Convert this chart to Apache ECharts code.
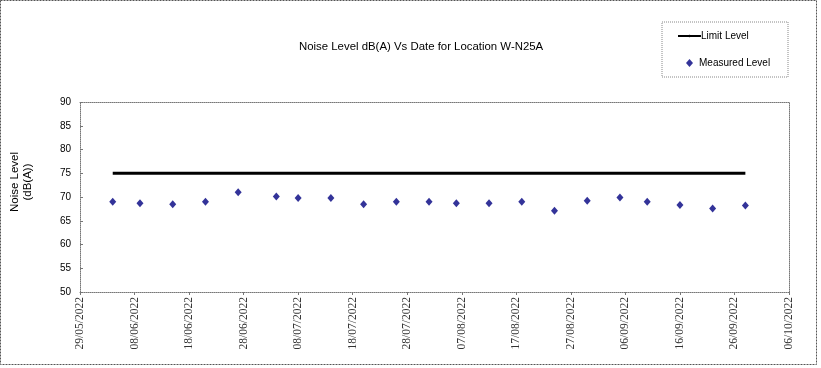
<!DOCTYPE html>
<html>
<head>
<meta charset="utf-8">
<script src="https://cdn.jsdelivr.net/npm/echarts@6/dist/echarts.min.js"></script>
<style>
html,body{margin:0;padding:0;background:#fff;}
#chart{width:821px;height:368px;}
</style>
</head>
<body>
<div id="chart"></div>
<script>
// ---- data ----
const startDate = '29/05/2022';
const endDate = '06/10/2022';
const tickStepDays = 10;
const dates = ['04/06/2022','09/06/2022','15/06/2022','21/06/2022','27/06/2022','04/07/2022','08/07/2022','14/07/2022','20/07/2022','26/07/2022','01/08/2022','06/08/2022','12/08/2022','18/08/2022','24/08/2022','30/08/2022','05/09/2022','10/09/2022','16/09/2022','22/09/2022','28/09/2022'];
const measuredLevel = [69.0,68.7,68.5,69.0,71.0,70.1,69.8,69.8,68.5,69.0,69.0,68.7,68.7,69.0,67.1,69.2,69.9,69.0,68.3,67.6,68.2];
const limitLevel = [75,75,75,75,75,75,75,75,75,75,75,75,75,75,75,75,75,75,75,75,75];
const yTicks = {min:50, max:90, step:5};

// ---- helpers ----
const DAY = 86400000;
function parseDMY(s){const p=s.split('/');return Date.UTC(+p[2],+p[1]-1,+p[0]);}
const t0 = parseDMY(startDate);
function dayOffset(s){return Math.round((parseDMY(s)-t0)/DAY);}
function fmtOffset(v){
  const d=new Date(t0+v*DAY);
  const dd=String(d.getUTCDate()).padStart(2,'0');
  const mm=String(d.getUTCMonth()+1).padStart(2,'0');
  return dd+'/'+mm+'/'+d.getUTCFullYear();
}
const xMax = dayOffset(endDate);
const measuredData = dates.map((d,i)=>[dayOffset(d),measuredLevel[i]]);
const limitData = dates.map((d,i)=>[dayOffset(d),limitLevel[i]]);

const axisGrey = '#777';
const chart = echarts.init(document.getElementById('chart'), null, {renderer:'canvas'});
chart.setOption({
  animation:false,
  backgroundColor:'#fff',
  title:{
    text:'Noise Level dB(A) Vs Date for Location W-N25A',
    left:299, top:41, padding:0,
    textStyle:{fontFamily:'Arial, Liberation Sans', fontSize:11.4, fontWeight:'normal', color:'#000'}
  },
  legend:[
    {
      data:['Limit Level'],
      left:677, top:31, padding:0,
      itemWidth:23, itemHeight:3, itemGap:0,
      textStyle:{fontFamily:'Arial, Liberation Sans', fontSize:10, color:'#000', padding:[0,0,0,-5]}
    },
    {
      data:[{name:'Measured Level', icon:'diamond'}],
      left:686, top:58, padding:0,
      itemWidth:7, itemHeight:8, itemGap:0,
      textStyle:{fontFamily:'Arial, Liberation Sans', fontSize:10, color:'#000', padding:[0,0,0,1]}
    }
  ],
  graphic:[
    {type:'rect', shape:{x:662, y:22, width:126, height:55}, style:{fill:'none', stroke:'#888', lineWidth:1, lineDash:[1,1]}, silent:true, z:-1},
    {type:'rect', shape:{x:0.5, y:0.5, width:816, height:364}, style:{fill:'none', stroke:'#555', lineWidth:1, lineDash:[2,1]}, silent:true, z:-1}
  ],
  grid:{left:80, right:32, top:102, bottom:76, containLabel:false, outerBoundsMode:'none'},
  xAxis:[
    {
      type:'value', min:0, max:xMax, interval:tickStepDays,
      axisLine:{show:true, lineStyle:{color:axisGrey, type:'dotted', width:1}},
      axisTick:{show:true, inside:false, length:3, lineStyle:{color:axisGrey}},
      splitLine:{show:false},
      axisLabel:{
        rotate:90, margin:5, formatter:fmtOffset,
        fontFamily:'Liberation Serif, Times New Roman, serif', fontSize:11.5, color:'#333',
        showMinLabel:true, showMaxLabel:true
      }
    },
    {
      type:'value', position:'top', min:0, max:xMax, interval:tickStepDays,
      axisLine:{show:true, onZero:false, lineStyle:{color:axisGrey, type:'dotted', width:1}},
      axisTick:{show:false}, axisLabel:{show:false}, splitLine:{show:false}
    }
  ],
  yAxis:[
    {
      type:'value', min:yTicks.min, max:yTicks.max, interval:yTicks.step,
      name:'Noise Level\n(dB(A))', nameLocation:'middle', nameGap:46, nameRotate:90,
      nameTextStyle:{fontFamily:'Arial, Liberation Sans', fontSize:11.5, color:'#000', lineHeight:13, padding:[0,0,0,30]},
      axisLine:{show:true, lineStyle:{color:axisGrey, type:'dotted', width:1}},
      axisTick:{show:true, inside:true, length:3, lineStyle:{color:axisGrey}},
      splitLine:{show:false},
      axisLabel:{margin:9, fontFamily:'Arial, Liberation Sans', fontSize:10, color:'#000'}
    },
    {
      type:'value', position:'right', min:yTicks.min, max:yTicks.max, interval:yTicks.step,
      axisLine:{show:true, onZero:false, lineStyle:{color:axisGrey, type:'dotted', width:1}},
      axisTick:{show:false}, axisLabel:{show:false}, splitLine:{show:false}
    }
  ],
  series:[
    {
      name:'Limit Level', type:'line', data:limitData,
      symbol:'none', lineStyle:{color:'#000', width:3}, itemStyle:{color:'#000'},
      z:2
    },
    {
      name:'Measured Level', type:'scatter', data:measuredData,
      symbol:'diamond', symbolSize:[7,8], itemStyle:{color:'#000080'},
      z:3
    }
  ]
});
</script>
</body>
</html>
